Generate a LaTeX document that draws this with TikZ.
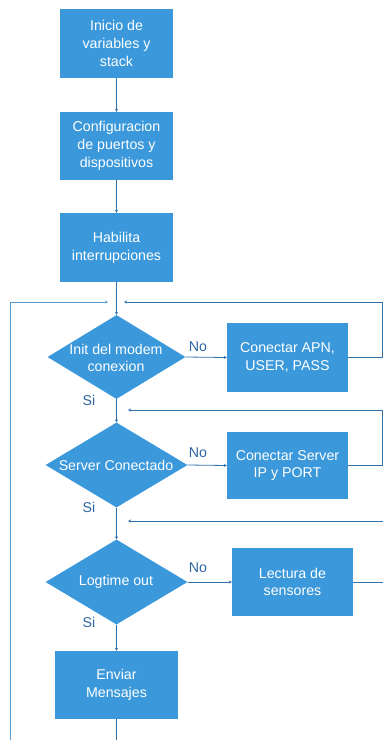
\documentclass[tikz,border=0pt]{standalone}
\usepackage{fontspec}
\setmainfont{Liberation Sans}
\usetikzlibrary{shapes.geometric,arrows.meta}
\definecolor{boxfill}{HTML}{3A98DB}
\definecolor{linec}{HTML}{2F72AE}
\definecolor{leftc}{HTML}{5A9AD0}
\definecolor{labc}{HTML}{2E66A0}
\begin{document}
\begin{tikzpicture}[x=1pt,y=-1pt,
  procbox/.style={rectangle,fill=boxfill,draw=none,inner sep=0pt,text=white,align=center,font=\fontsize{14.2}{17.7}\selectfont},
  decis/.style={diamond,fill=boxfill,draw=none,inner sep=0pt},
  dtext/.style={text=white,align=center,font=\fontsize{14.2}{17.7}\selectfont,inner sep=0pt},
  lab/.style={text=labc,font=\fontsize{14.2}{16}\selectfont,inner sep=0pt},
  conn/.style={draw=linec,line width=0.8pt,-{Stealth[length=3pt,width=3pt]}},
  plain/.style={draw=linec,line width=0.8pt}]
\useasboundingbox (0,0) rectangle (383,740);
% process boxes
\node[procbox,minimum width=113,minimum height=69] (b1) at (116.5,43.5) {Inicio de\\variables y\\stack};
\node[procbox,minimum width=113,minimum height=68] (b2) at (116.5,146) {Configuracion\\de puertos y\\dispositivos};
\node[procbox,minimum width=113,minimum height=69] (b3) at (116.5,247.5) {Habilita\\interrupciones};
% decisions
\node[decis,minimum width=138,minimum height=84] (d1) at (116.5,357) {};
\node[dtext] (d1t) at (116,358) {Init del modem\\conexion};
\node[decis,minimum width=142,minimum height=85] (d2) at (116.5,465) {};
\node[dtext] (d2t) at (116,465) {Server Conectado};
\node[decis,minimum width=142,minimum height=85] (d3) at (116.5,582) {};
\node[dtext] (d3t) at (116,582) {Logtime out};
% side boxes
\node[procbox,minimum width=121,minimum height=69] (apn) at (287.5,357.5) {Conectar APN,\\USER, PASS};
\node[procbox,minimum width=121,minimum height=67] (ip) at (287.5,465.5) {Conectar Server\\IP y PORT};
\node[procbox,minimum width=121,minimum height=68] (lec) at (292.5,582) {Lectura de\\sensores};
\node[procbox,minimum width=123,minimum height=68] (env) at (116.5,685) {Enviar\\Mensajes};
% junction coordinates
\coordinate (j1l) at (108,302);
\coordinate (j1r) at (124,302);
\coordinate (j2r) at (128,410);
\coordinate (j3r) at (128,521);
\coordinate (r1a) at (382.5,357.5);
\coordinate (r1b) at (382.5,302);
\coordinate (r2a) at (382.5,465.5);
\coordinate (r2b) at (382.5,410);
\coordinate (r3a) at (385,582);
\coordinate (r3b) at (385,521);
\coordinate (lbot) at (10,741);
\coordinate (ltop) at (10,302);
\coordinate (cbot) at (116.5,741);
% main flow
\draw[conn] (b1.south) -- (b2.north);
\draw[conn] (b2.south) -- (b3.north);
\draw[conn] (b3.south) -- (d1.north);
\draw[conn] (d1.south) -- (d2.north);
\draw[conn] (d2.south) -- (d3.north);
\draw[conn] (d3.south) -- (env.north);
\draw[plain] (env.south) -- (cbot);
% No branches
\draw[conn] (d1.east) -- (apn.west);
\draw[conn] (d2.east) -- (ip.west);
\draw[conn] (d3.east) -- (lec.west);
% loops back
\draw[conn] (apn.east) -- (r1a) -- (r1b) -- (j1r);
\draw[conn] (ip.east) -- (r2a) -- (r2b) -- (j2r);
\draw[conn] (lec.east) -- (r3a) -- (r3b) -- (j3r);
\draw[draw=leftc,line width=0.8pt,-{Stealth[length=3pt,width=3pt]}] (lbot) -- (ltop) -- (j1l);
% labels
\node[lab] (n1) at (198,347) {No};
\node[lab] (n2) at (198,453) {No};
\node[lab] (n3) at (198,568) {No};
\node[lab] (s1) at (89,400) {Si};
\node[lab] (s2) at (89,507) {Si};
\node[lab] (s3) at (89,622) {Si};
\end{tikzpicture}
\end{document}
